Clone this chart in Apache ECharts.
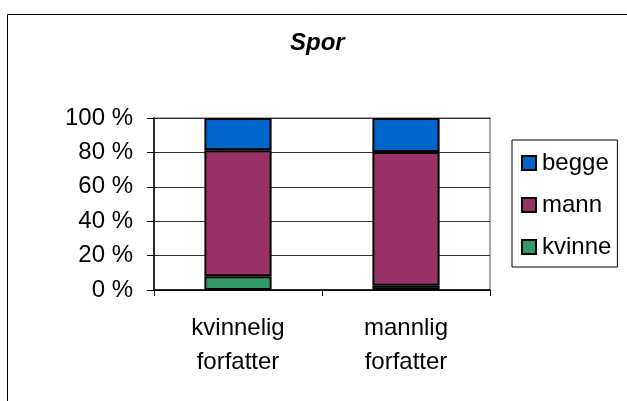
<!DOCTYPE html>
<html>
<head>
<meta charset="utf-8">
<script src="https://cdn.jsdelivr.net/npm/echarts@6/dist/echarts.min.js"></script>
<style>
  html, body { margin: 0; padding: 0; background: #fff; }
  #chart { width: 627px; height: 401px; }
</style>
</head>
<body>
<div id="chart"></div>
<script>
const categories = ['kvinnelig\nforfatter', 'mannlig\nforfatter'];
const kvinne = [8, 2.5];
const mann = [73.3, 77.7];
const begge = [18.7, 19.8];
const yTicks = [0, 20, 40, 60, 80, 100];

const font = "'Liberation Sans', Arial, sans-serif";
const charts = echarts.init(document.getElementById('chart'));

function barSeries(name, data, color) {
  return {
    name: name,
    type: 'bar',
    stack: 'total',
    barWidth: '40%',
    data: data,
    itemStyle: { color: color, borderColor: '#000', borderWidth: 2 }
  };
}

const option = {
  backgroundColor: '#fff',
  animation: false,
  title: {
    text: 'Spor',
    left: 285,
    top: 26,
    textStyle: { fontFamily: font, fontSize: 24, fontWeight: 'bold', fontStyle: 'italic', color: '#000' }
  },
  graphic: [{
    type: 'rect',
    shape: { x: 7.5, y: 14.5, width: 700, height: 500 },
    style: { fill: 'none', stroke: '#000', lineWidth: 1 },
    silent: true
  }],
  legend: {
    orient: 'vertical',
    left: 512,
    top: 140,
    data: ['begge', 'mann', 'kvinne'],
    icon: 'rect',
    itemWidth: 14,
    itemHeight: 14,
    itemGap: 16,
    padding: [10, 6, 7, 9],
    borderColor: '#000',
    borderWidth: 1,
    textStyle: { fontFamily: font, fontSize: 24, color: '#000', lineHeight: 26, padding: [0, 0, 0, 1] }
  },
  grid: {
    left: 154,
    right: 137,
    top: 118,
    bottom: 111,
    show: true,
    borderColor: '#8a8a8a',
    borderWidth: 1.5
  },
  xAxis: {
    type: 'category',
    data: categories,
    axisLine: { lineStyle: { color: '#000', width: 1.5 } },
    axisTick: { show: true, alignWithLabel: false, length: 6, lineStyle: { color: '#000' } },
    axisLabel: { fontFamily: font, fontSize: 24, color: '#000', lineHeight: 34, margin: 21 }
  },
  yAxis: {
    type: 'value',
    min: yTicks[0],
    max: yTicks[yTicks.length - 1],
    interval: 20,
    axisLine: { show: true, lineStyle: { color: '#000', width: 1.5 } },
    axisTick: { show: true, length: 7, lineStyle: { color: '#000' } },
    splitLine: { lineStyle: { color: '#333', width: 1 } },
    axisLabel: { fontFamily: font, fontSize: 24, color: '#000', margin: 21, formatter: '{value} %' }
  },
  series: [
    barSeries('kvinne', kvinne, '#339966'),
    barSeries('mann', mann, '#993366'),
    barSeries('begge', begge, '#0066CC')
  ]
};
charts.setOption(option);
</script>
</body>
</html>
